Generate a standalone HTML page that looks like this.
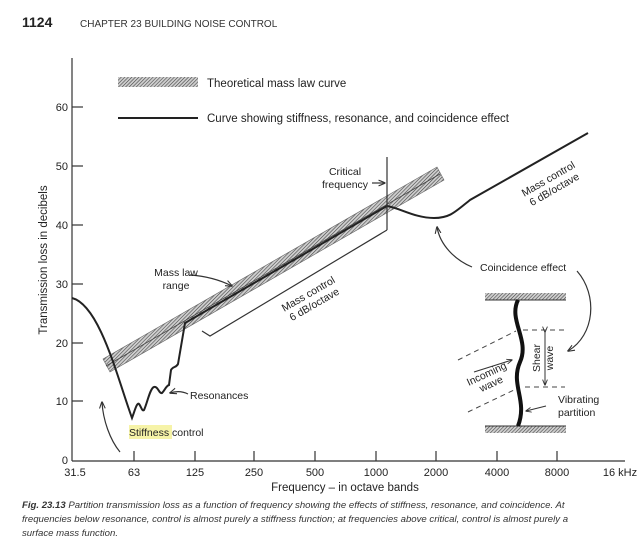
<!DOCTYPE html>
<html><head><meta charset="utf-8"><style>
body{margin:0;background:#fff;}
svg{display:block;font-family:"Liberation Sans",sans-serif;}
</style></head><body>
<svg width="640" height="554" viewBox="0 0 640 554" xmlns="http://www.w3.org/2000/svg">
<defs>
<pattern id="h" width="2.5" height="2.5" patternUnits="userSpaceOnUse" patternTransform="rotate(45)">
<rect width="2.5" height="2.5" fill="#d0d0d0"/><line x1="0" y1="0" x2="0" y2="2.5" stroke="#444" stroke-width="1.2"/>
</pattern>
<marker id="a" viewBox="0 0 10 10" refX="9" refY="5" markerWidth="6" markerHeight="6" orient="auto"><path d="M0,1 L10,5 L0,9" fill="none" stroke="#333" stroke-width="1.5"/></marker>
</defs>
<text x="22" y="27" font-size="14" font-weight="bold" fill="#222">1124</text>
<text x="80" y="27" font-size="10" fill="#333">CHAPTER 23 BUILDING NOISE CONTROL</text>

<g stroke="#333" stroke-width="1.2" fill="none">
<line x1="72" y1="58" x2="72" y2="461"/>
<line x1="72" y1="461" x2="625" y2="461"/>
<line x1="72" y1="107" x2="83" y2="107"/><line x1="72" y1="166" x2="83" y2="166"/><line x1="72" y1="225" x2="83" y2="225"/><line x1="72" y1="284" x2="83" y2="284"/><line x1="72" y1="343" x2="83" y2="343"/><line x1="72" y1="401" x2="83" y2="401"/>
<line x1="134" y1="451" x2="134" y2="461"/><line x1="195" y1="451" x2="195" y2="461"/><line x1="254" y1="451" x2="254" y2="461"/><line x1="315" y1="451" x2="315" y2="461"/><line x1="376" y1="451" x2="376" y2="461"/><line x1="436" y1="451" x2="436" y2="461"/><line x1="497" y1="451" x2="497" y2="461"/><line x1="557" y1="451" x2="557" y2="461"/>
</g>
<g font-size="11" fill="#222" text-anchor="end">
<text x="68" y="111">60</text><text x="68" y="170">50</text><text x="68" y="229">40</text><text x="68" y="288">30</text><text x="68" y="347">20</text><text x="68" y="405">10</text><text x="68" y="464">0</text>
</g>
<g font-size="11" fill="#222" text-anchor="middle">
<text x="75" y="476">31.5</text><text x="134" y="476">63</text><text x="195" y="476">125</text><text x="254" y="476">250</text><text x="315" y="476">500</text><text x="376" y="476">1000</text><text x="436" y="476">2000</text><text x="497" y="476">4000</text><text x="557" y="476">8000</text><text x="620" y="476">16 kHz</text>
<text x="345" y="491" font-size="11.5">Frequency – in octave bands</text>
</g>
<text transform="translate(47,260) rotate(-90)" font-size="11.5" fill="#222" text-anchor="middle">Transmission loss in decibels</text>

<rect x="118" y="77" width="80" height="10" fill="url(#h)"/>
<text x="207" y="87" font-size="11.5" fill="#222">Theoretical mass law curve</text>
<line x1="118" y1="118" x2="198" y2="118" stroke="#222" stroke-width="2"/>
<text x="207" y="122" font-size="11.5" fill="#222">Curve showing stiffness, resonance, and coincidence effect</text>

<polygon points="103,359 437,167 444,180 110,372" fill="url(#h)" stroke="#666" stroke-width="0.6"/>
<line x1="106" y1="366" x2="440" y2="174" stroke="#444" stroke-width="0.8"/>

<path d="M72,298 C100,305 118,380 132,418 C135,410 137,402 139,404 C141,406 142,412 144,410 C147,404 150,388 154,387 C158,386 159,394 162,393 C165,390 166,386 169,385 L171,370 C173,366 176,368 178,364 L185,323 L387,206 C400,208 415,218 434,218 C450,218 455,212 470,200 L588,133" fill="none" stroke="#222" stroke-width="2"/>

<g stroke="#333" stroke-width="1.2" fill="none">
<line x1="387" y1="157" x2="387" y2="230"/>
<polyline points="202,331 210,336 387,230"/>
<path d="M120,452 C110,440 103,420 102,402" marker-end="url(#a)"/>
<path d="M188,394 C182,391 176,391 170,393" marker-end="url(#a)"/>
<path d="M372,183 L385,183" marker-end="url(#a)"/>
<path d="M190,275 C205,276 220,280 232,286" marker-end="url(#a)"/>
<path d="M472,267 C455,260 440,245 437,227" marker-end="url(#a)"/>
<path d="M577,271 C598,295 595,335 568,351" marker-end="url(#a)"/>
</g>
<text x="345" y="175" font-size="10.5" text-anchor="middle" fill="#222">Critical</text>
<text x="345" y="188" font-size="10.5" text-anchor="middle" fill="#222">frequency</text>
<text x="176" y="276" font-size="10.5" text-anchor="middle" fill="#222">Mass law</text>
<text x="176" y="289" font-size="10.5" text-anchor="middle" fill="#222">range</text>
<g transform="translate(310,297) rotate(-30)" font-size="10.5" fill="#222" text-anchor="middle"><text x="0" y="0">Mass control</text><text x="0" y="12">6 dB/octave</text></g>
<g transform="translate(550,182) rotate(-30)" font-size="10.5" fill="#222" text-anchor="middle"><text x="0" y="0">Mass control</text><text x="0" y="12">6 dB/octave</text></g>
<text x="190" y="399" font-size="10.5" fill="#222">Resonances</text>
<rect x="129" y="425" width="43" height="14" fill="#f6f3a8"/>
<text x="129" y="436" font-size="10.5" fill="#222">Stiffness control</text>
<text x="480" y="271" font-size="10.5" fill="#222">Coincidence effect</text>

<rect x="485" y="293" width="81" height="7" fill="url(#h)"/>
<line x1="485" y1="300" x2="566" y2="300" stroke="#333"/>
<rect x="485" y="426" width="81" height="7" fill="url(#h)"/>
<line x1="485" y1="426" x2="566" y2="426" stroke="#333"/>
<path d="M518,300 C508,320 530,340 520,362 C510,385 528,400 518,426" fill="none" stroke="#111" stroke-width="4"/>
<g stroke="#444" stroke-width="1" stroke-dasharray="5,4" fill="none">
<line x1="523" y1="330" x2="565" y2="330"/><line x1="525" y1="387" x2="565" y2="387"/>
<line x1="458" y1="360" x2="516" y2="331"/><line x1="468" y1="412" x2="514" y2="390"/>
</g>
<line x1="545" y1="332" x2="545" y2="385" stroke="#333" marker-end="url(#a)" marker-start="url(#a)"/>
<line x1="474" y1="372" x2="512" y2="360" stroke="#333" marker-end="url(#a)"/>
<line x1="546" y1="406" x2="526" y2="411" stroke="#333" marker-end="url(#a)"/>
<text transform="translate(540,358) rotate(-90)" font-size="10.5" text-anchor="middle" fill="#222">Shear</text>
<text transform="translate(553,358) rotate(-90)" font-size="10.5" text-anchor="middle" fill="#222">wave</text>
<g transform="translate(488,377) rotate(-25)" font-size="10.5" text-anchor="middle" fill="#222"><text x="0" y="0">Incoming</text><text x="0" y="11">wave</text></g>
<text x="558" y="403" font-size="10.5" fill="#222">Vibrating</text>
<text x="558" y="416" font-size="10.5" fill="#222">partition</text>

<g font-size="9.6" font-style="italic" fill="#333">
<text x="22" y="508"><tspan font-weight="bold">Fig. 23.13</tspan> Partition transmission loss as a function of frequency showing the effects of stiffness, resonance, and coincidence. At</text>
<text x="22" y="522">frequencies below resonance, control is almost purely a stiffness function; at frequencies above critical, control is almost purely a</text>
<text x="22" y="536">surface mass function.</text>
</g>
</svg>
</body></html>
